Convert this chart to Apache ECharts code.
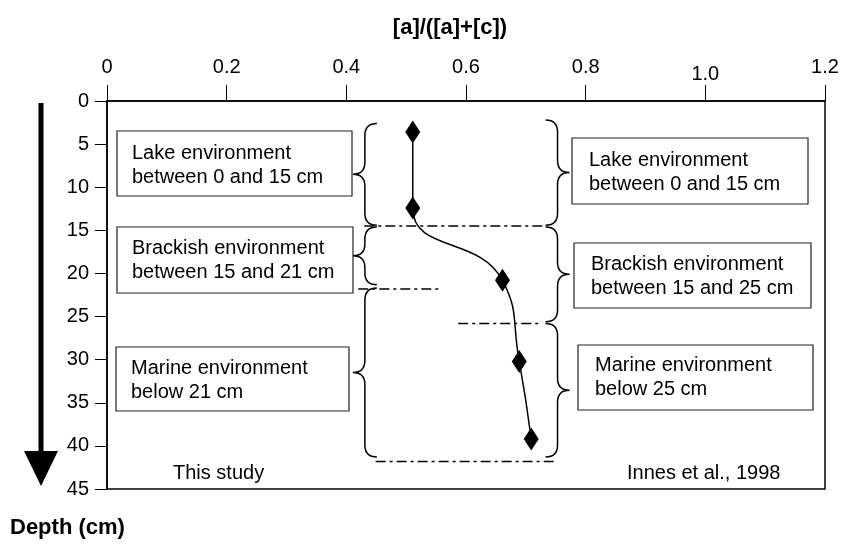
<!DOCTYPE html>
<html>
<head>
<meta charset="utf-8">
<script src="https://cdn.jsdelivr.net/npm/echarts@6/dist/echarts.min.js"></script>
<style>
  html, body { margin: 0; padding: 0; background: #fff; }
  #chart { width: 844px; height: 544px; }
</style>
</head>
<body>
<div id="chart"></div>
<script>
// Ratio [a]/([a]+[c]) measured down the core
const ratio = [0.511, 0.511, 0.661, 0.689, 0.709];
const depth = [3.6, 12.4, 20.8, 30.2, 39.2];

// Environment boundaries (dash-dot): depth, x-start, x-end
const boundaryDepth = [14.5, 21.8, 25.8, 41.8];
const boundaryFrom  = [0.430, 0.420, 0.587, 0.449];
const boundaryTo    = [0.730, 0.557, 0.724, 0.753];

// Curly braces grouping each interval: x, top depth, bottom depth
const leftBraceX = 0.431;
const leftBraceTop    = [2.6, 14.6, 21.7];
const leftBraceBottom = [14.4, 21.3, 41.3];
const rightBraceX = 0.753;
const rightBraceTop    = [2.2, 14.6, 25.8];
const rightBraceBottom = [14.4, 25.6, 41.3];

// Interpretation labels
const leftNotes = [
  'Lake environment\nbetween 0 and 15 cm',
  'Brackish environment\nbetween 15 and 21 cm',
  'Marine environment\nbelow 21 cm'
];
const rightNotes = [
  'Lake environment\nbetween 0 and 15 cm',
  'Brackish environment\nbetween 15 and 25 cm',
  'Marine environment\nbelow 25 cm'
];

const FONT = "'Liberation Sans', Arial, Helvetica, sans-serif";

const chart = echarts.init(document.getElementById('chart'), null, { renderer: 'canvas' });

const points = ratio.map((r, i) => [r, depth[i]]);

const braceData = [];
leftBraceTop.forEach((t, i) => braceData.push([leftBraceX, t, leftBraceBottom[i], -1]));
rightBraceTop.forEach((t, i) => braceData.push([rightBraceX, t, rightBraceBottom[i], 1]));

const boundarySeries = boundaryDepth.map((d, i) => ({
  type: 'line',
  data: [[boundaryFrom[i], d], [boundaryTo[i], d]],
  symbol: 'none',
  silent: true,
  lineStyle: { color: '#000', width: 1.5, type: [10, 4, 3, 4] },
  z: 3
}));

// Draws a curly brace; dir = -1 points left "{", dir = 1 points right "}"
function renderBrace(params, api) {
  const x0 = api.value(0);
  const dir = api.value(3);
  const pTop = api.coord([x0, api.value(1)]);
  const pBot = api.coord([x0, api.value(2)]);
  const x = pTop[0];
  const top = pTop[1];
  const bot = pBot[1];
  const mid = (top + bot) / 2;
  const r = 12;
  const path = [
    'M', x - dir * r, top,
    'Q', x, top, x, top + r,
    'L', x, mid - r,
    'Q', x, mid, x + dir * r, mid,
    'Q', x, mid, x, mid + r,
    'L', x, bot - r,
    'Q', x, bot, x - dir * r, bot
  ].join(' ');
  return {
    type: 'path',
    shape: { pathData: path },
    style: { fill: 'none', stroke: '#000', lineWidth: 1.5 }
  };
}

const noteBoxes = [
  { x: 117, y: 131, w: 235, h: 65, tx: 132, ty: 141.5 },
  { x: 117, y: 227, w: 236, h: 66, tx: 132, ty: 236 },
  { x: 116, y: 347, w: 233, h: 64, tx: 131, ty: 356.5 },
  { x: 572, y: 138, w: 236, h: 66, tx: 589, ty: 148.5 },
  { x: 574, y: 243, w: 237, h: 65, tx: 591, ty: 252 },
  { x: 578, y: 345, w: 235, h: 65, tx: 595, ty: 353.5 }
];
const noteTexts = leftNotes.concat(rightNotes);

const graphics = [];
noteBoxes.forEach((b, i) => {
  graphics.push({
    type: 'rect',
    shape: { x: b.x, y: b.y, width: b.w, height: b.h },
    style: { fill: '#fff', stroke: '#222', lineWidth: 1.2 },
    z: 10
  });
  graphics.push({
    type: 'text',
    style: {
      x: b.tx, y: b.ty, text: noteTexts[i],
      font: '20px ' + FONT, lineHeight: 24, fill: '#000',
      textVerticalAlign: 'top'
    },
    z: 11
  });
});

// depth arrow
graphics.push({
  type: 'line',
  shape: { x1: 41, y1: 103, x2: 41, y2: 455 },
  style: { stroke: '#000', lineWidth: 5 }
});
graphics.push({
  type: 'polygon',
  shape: { points: [[24, 451], [58, 451], [41, 486]] },
  style: { fill: '#000' }
});

// source captions
graphics.push({
  type: 'text',
  style: { x: 173, y: 473, text: 'This study', font: '20px ' + FONT, fill: '#000', textVerticalAlign: 'middle' }
});
graphics.push({
  type: 'text',
  style: { x: 627, y: 473, text: 'Innes et al., 1998', font: '20px ' + FONT, fill: '#000', textVerticalAlign: 'middle' }
});

// axis titles
graphics.push({
  type: 'text',
  style: { x: 450, y: 28, text: '[a]/([a]+[c])', font: 'bold 22px ' + FONT, fill: '#000', textAlign: 'center', textVerticalAlign: 'middle' }
});
graphics.push({
  type: 'text',
  style: { x: 10, y: 528, text: 'Depth (cm)', font: 'bold 22px ' + FONT, fill: '#000', textVerticalAlign: 'middle' }
});

const option = {
  animation: false,
  backgroundColor: '#fff',
  grid: {
    left: 107, right: 19, top: 101, bottom: 55,
    show: true, borderColor: '#000', borderWidth: 1.5, backgroundColor: 'transparent'
  },
  xAxis: {
    type: 'value',
    position: 'top',
    min: 0, max: 1.2, interval: 0.2,
    axisLine: { show: true, lineStyle: { color: '#000', width: 1.5 } },
    axisTick: { show: true, inside: false, length: 16, lineStyle: { color: '#000', width: 1 } },
    axisLabel: {
      show: true, margin: 24, color: '#000', fontSize: 20, fontFamily: FONT,
      showMinLabel: true, showMaxLabel: true,
      formatter: v => {
        if (v === 0) return '0';
        const s = v.toFixed(1);
        return Math.abs(v - 1) < 1e-9 ? '{low|' + s + '}' : s;
      },
      rich: { low: { fontSize: 20, fontFamily: FONT, color: '#000', padding: [0, 0, -7, 0] } }
    },
    splitLine: { show: false }
  },
  yAxis: {
    type: 'value',
    inverse: true,
    min: 0, max: 45, interval: 5,
    axisLine: { show: true, lineStyle: { color: '#000', width: 1.5 } },
    axisTick: { show: true, inside: false, length: 12, lineStyle: { color: '#000', width: 1 } },
    axisLabel: { show: true, margin: 18, color: '#000', fontSize: 20, fontFamily: FONT, showMinLabel: true, showMaxLabel: true },
    splitLine: { show: false }
  },
  graphic: graphics,
  series: [
    {
      type: 'custom',
      renderItem: renderBrace,
      data: braceData,
      encode: { x: 0, y: [1, 2] },
      silent: true,
      z: 2
    },
    ...boundarySeries,
    {
      type: 'line',
      data: points,
      smooth: 0.5,
      symbol: 'diamond',
      symbolSize: [15, 23],
      itemStyle: { color: '#000' },
      lineStyle: { color: '#000', width: 1.5 },
      z: 5
    }
  ]
};

chart.setOption(option);
</script>
</body>
</html>
